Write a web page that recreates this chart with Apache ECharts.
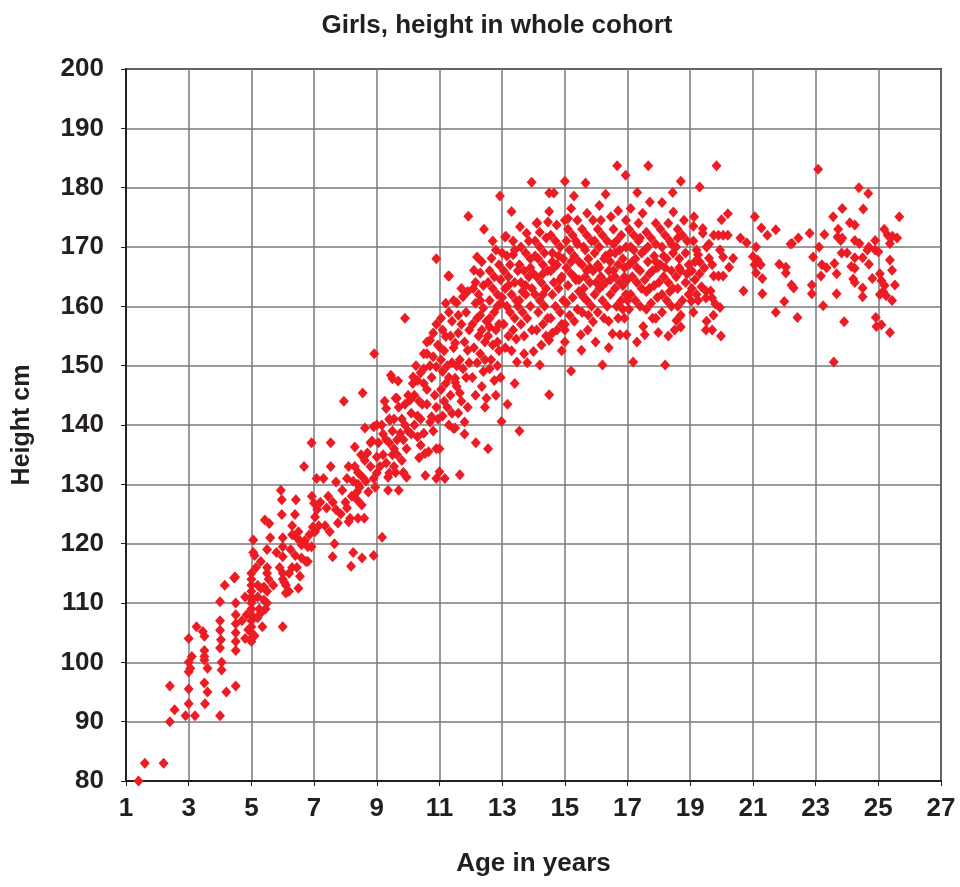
<!DOCTYPE html>
<html>
<head>
<meta charset="utf-8">
<script src="https://cdn.jsdelivr.net/npm/echarts@6/dist/echarts.min.js"></script>
<style>
  html, body { margin: 0; padding: 0; background: #fff; }
  #chart { width: 960px; height: 887px; }
</style>
</head>
<body>
<div id="chart"></div>
<script>
// [age in years, height in cm], grouped by age band
const toddlers = [
  [1.4,80],[1.6,83],[2.2,83],[2.4,90],[2.55,92],[2.4,96],[2.9,91],[3.2,91],[3.0,93],[3.0,95.5],
  [3.0,98.4],[3.0,100],[3.0,104],[3.05,99],[3.1,101],[3.25,106],[3.5,104.4],[3.45,105.2],[3.5,102],[3.5,101],
  [3.5,100.4],[3.6,99],[3.5,96.5],[3.6,95],[3.52,93],[4.0,91],[4.2,95],[4.5,96],[4.05,100],[4.05,98.7],
  [4.0,102.4],[4.03,103.8],[4.0,105.4],[4.0,107],[4.0,110.2],[4.15,113],[4.45,114.2],[4.5,110],[4.5,108],[4.5,106.5],
  [4.5,105],[4.5,103.5],[4.5,102],[4.48,114.4],[4.8,111],[4.85,108],[4.7,107],[4.9,105.5],[4.8,104]
];
const youngChildren = [
  [5.0,115],[5.0,114],[5.0,113],[5.0,112],[5.0,111],[5.02,110.5],[5.0,110],[5.0,109],[5.0,108],[5.0,107],
  [5.0,106],[5.0,105],[5.0,104],[5.0,103.5],[5.06,120.6],[5.06,118.5],
  [5.15,116],[5.2,113],[5.2,111],[5.25,109],[5.3,108.3],[5.35,106],[5.1,104.5],[5.2,107.5],[5.3,112.5],
  [5.5,116],[5.55,114],[5.5,112],[5.5,110],[5.45,109],[5.4,112.7],[5.4,110.5],[5.43,124],[5.57,123.4],[5.5,119],[5.5,115],
  [6.0,106],[6.0,114],[6.1,113],[6.2,112],[6.2,115],[6.0,121],[6.0,119.5],[6.0,117.8],[6.0,115],[6.05,113.5],
  [6.1,111.7],[5.94,129],[5.97,127.4],[5.97,124.9],
  [6.5,112.5],[6.74,117],[6.42,127.4],[6.39,124.9],[6.45,121],[6.55,120.5],[6.6,119.8],[6.7,120.5],[6.8,119.5],[6.6,117.6],
  [6.8,117],[6.5,122],[6.3,116],[6.4,118],[6.92,119.5],
  [5.1,118],[5.3,117],[5.6,121],[5.8,118.5],[5.7,113],[5.9,116],[6.3,121.5],[6.25,119],[6.45,116],[6.55,114.5],
  [6.85,121.5],[6.3,123]
];
const schoolChildren = [
  [6.92,137],[6.68,133],[6.93,128],[7.0,126.8],[7.1,125.8],[7.03,124.5],[7.03,122],[6.96,122.8],[7.08,131],[7.2,127],[7.15,123],
  [7.3,131],[7.35,123],[7.5,122],[7.53,137],[7.53,133],[7.6,127],[7.7,125.7],[7.7,130.4],[7.76,123.5],[7.59,117.8],
  [7.95,144],[8.0,127],[8.05,126],[8.05,131],[7.9,129],[7.85,125],[7.45,128],[7.4,126],[7.65,120],
  [8.3,136.3],[8.15,124.3],[8.4,124.3],[8.37,128.7],[8.37,127.4],[8.52,126.5],[8.3,133],[8.4,132],[8.55,131.2],[8.4,130],
  [8.62,134],[8.7,135.3],[8.73,128.7],[8.8,137],[8.85,137.3],[8.62,139.5],[8.9,139.7],[8.55,145.4],[8.92,152],[8.9,118],
  [8.53,117.6],[8.18,116.2],[8.25,118.5],[8.6,124.3],[8.45,129.5],[8.2,128],[8.1,123.7],[8.9,131],[8.95,129.5],
  [9.0,134.6],[9.1,133],[9.17,121.1],[9.16,140],[9.2,135],[9.3,133.6],[9.3,137.5],[9.4,137],[9.4,141],[9.5,139],
  [9.3,142.8],[9.36,131.2],[9.6,132],[9.55,133],[9.85,132],[9.95,131.2],[9.8,134],[9.75,138.6],[9.85,137.5],[9.95,136],
  [9.7,129],[9.36,129],[9.45,148.4],[9.5,147.8],[9.68,147.4],[9.7,143],[9.6,144.5],[9.8,141],[9.9,140],[9.9,158],
  [9.55,136],[9.65,135],[9.42,140.8],[9.0,140],[9.0,131.9],[9.4,131.9],[9.85,131.9],[9.64,144.5],[10.06,144.2],
  [8.1,133],[8.25,130.5],[8.5,135],[8.65,130.5],[8.8,133],[9.05,137],[9.2,138.5],[9.5,135],[9.65,137.5],[9.25,144],
  [9.55,141],[9.9,143.5]
];
const preteens = [
  [10.0,139],[10.1,138.5],[10.3,138],[10.4,136.6],[10.1,142],[10.3,141.5],[10.4,141],[10.5,138.6],[10.4,148.8],[10.5,147],
  [10.2,145],[10.3,147.5],[10.6,146],[10.7,150],[10.5,152],[10.6,154],[10.8,155.5],[10.9,157],[10.75,148],[10.85,145],
  [10.9,143],[10.95,141],[10.6,143.5],[10.7,140.5],[10.8,139],[10.9,168],[10.55,131.5],[10.9,131],[10.35,134.5],[10.0,145],
  [10.15,147],[10.65,135.5],[10.9,136],[10.16,148.1],[10.7,154.3],[11.0,153.2],[10.6,152],[10.9,149.8],[10.54,135.2],[10.75,141.4],
  [10.2,140],[10.45,143.5],[10.25,150],[10.5,149.5],[10.8,151.5],[10.95,153.5],[10.35,144],
  [11.05,158],[11.1,156],[11.2,154.9],[11.15,152.5],[11.05,151],[11.25,150],[11.1,149],[11.3,148],[11.2,147],[11.05,146],
  [11.35,145],[11.15,144],[11.25,143],[11.4,142],[11.1,141.5],[11.3,140],[11.45,139.4],[11.0,136],[11.0,132.1],[11.17,131],
  [11.31,165.1],[11.28,165.1],[11.4,157.5],[11.35,155],[11.45,153],[11.4,150.5],[11.5,147.9],[11.5,147.2],[11.3,159],[11.2,160.5],
  [11.45,161],
  [11.55,160.6],[11.6,158.5],[11.7,157],[11.6,155.5],[11.8,154],[11.5,153.8],[11.9,152.6],[11.65,151],[11.75,149.5],[11.65,145.4],
  [11.85,148],[11.55,146.5],[11.7,144],[11.9,143],[11.6,142],[11.8,140.5],[11.5,139.5],[11.65,131.6],[11.8,138.5],[11.75,161.6],
  [11.9,162.5],[11.92,175.2],[11.95,156],[11.85,159],[11.7,163],[11.95,150.5],[11.55,150]
];
const earlyTeens = [
  [12.08,163],[12.1,166.1],[12.3,165.6],[12.42,173],[12.4,159.7],[12.15,160.5],[12.2,158],[12.05,157],[12.35,156],[12.25,155],
  [12.45,154],[12.1,153],[12.3,152],[12.2,150.5],[12.4,149],[12.05,148],[12.35,146.5],[12.15,145],[12.16,137],[12.45,143],
  [12.25,162],[12.4,163.5],[12.3,161],[12.15,164],[12.45,151],[12.5,157.5],[12.2,168.3],[12.35,167.5],[12.3,158.5],
  [12.55,136],[12.5,144.5],[12.8,145],[12.66,168.1],[12.6,166],[12.75,165],[12.9,167],[12.55,164],[12.7,163],[12.85,162],
  [12.6,161],[12.95,160.5],[12.75,159],[12.6,158],[12.9,157],[12.8,156],[12.55,155],[12.7,153.5],[12.9,152.5],[12.65,151],
  [12.85,150],[12.95,148],[12.75,147.5],[12.6,149.5],[12.93,178.6],[12.98,140.6],[12.8,169.5],[12.95,164.5],[12.85,154],
  [12.6,156.5],[12.85,160],[12.7,171],
  [13.09,171.7],[13.12,171.8],[13.3,176],[13.35,168.7],[13.17,143.5],[13.05,166],[13.2,165],[13.4,164],[13.1,163],[13.3,162],
  [13.45,161],[13.15,160],[13.25,159],[13.4,158],[13.05,157],[13.35,156],[13.2,155],[13.47,150.6],[13.1,153],[13.3,152.5],
  [13.45,154.5],[13.25,167],[13.4,169.5],[13.15,168.5],[13.0,161.5],[13.5,166],[13.4,147],[13.2,163.5],[13.0,169],[13.35,171],
  [13.57,173.4],[13.78,172.3],[13.94,180.9],[13.55,139],[14.0,152.4],[13.6,170],[13.75,169],[13.9,168],[13.55,167],[13.7,166],
  [13.85,165],[13.6,164],[13.95,163],[13.75,162],[13.55,161],[13.9,160],[13.65,159],[13.8,158],[13.6,157],[13.95,156],
  [13.7,155],[13.85,171],[13.65,162.5],[13.9,166.5],[13.8,150.5],[13.5,160],[13.75,163.5],[13.7,152]
];
const midTeens = [
  [14.12,174.1],[14.1,174],[14.46,174.2],[14.2,150.1],[14.5,145.1],[14.05,171],[14.2,170],[14.35,169],[14.15,168],[14.3,167],
  [14.45,166],[14.1,165],[14.25,164],[14.4,163],[14.05,162],[14.2,161],[14.35,160],[14.15,159],[14.45,158],[14.3,157],
  [14.1,156],[14.4,155],[14.25,153.5],[14.5,154.3],[14.2,172.5],[14.4,171.5],[14.3,165.5],[14.0,165.5],[14.3,162],[14.05,168.5],
  [14.5,179.1],[14.65,179.1],[14.74,173.7],[15.0,154],[14.55,172],[14.7,171],[14.85,170],[14.6,169],[14.95,168],
  [14.75,167],[14.55,166],[14.9,165],[14.65,164],[14.8,163],[14.6,162],[14.95,161],[14.7,160],[14.85,159],[14.55,158],
  [14.9,157],[14.75,156],[14.6,155.5],[15.0,181.1],[14.8,168.5],[14.65,166.5],[14.6,167.5],[14.85,164.5],[14.5,176],[14.9,152.5],
  [15.0,174.5],[15.29,178.6],[15.1,173],[15.25,172],[15.05,171],[15.4,170.5],[15.15,169.5],[15.3,168.5],[15.45,167.5],[15.05,166.5],
  [15.2,165.5],[15.35,164.5],[15.1,163.5],[15.45,162.5],[15.25,161.5],[15.05,160.5],[15.4,159.5],[15.15,158.5],[15.3,157.5],[15.0,156],
  [15.2,149.1],[15.1,174.8],[15.35,171],[15.4,174.5],[15.0,157],[15.3,165],[15.2,167.5],[15.45,164.5],[15.2,176.5],
  [15.66,180.8],[15.71,175.7],[15.51,155.2],[15.53,152.6],[15.73,156],[15.98,154],[15.9,157.4],[15.55,173],[15.7,172],[15.85,171],
  [15.6,170],[15.95,169],[15.75,168],[15.55,167],[15.9,166],[15.65,165],[15.8,164],[15.6,163],[15.95,162],[15.7,161],
  [15.85,160],[15.55,159],[15.75,158.5],[15.9,174.5],[15.65,169.5],[15.8,166.5],[15.6,161.5],[15.7,166],[15.95,171],[15.55,162]
];
const lateTeens = [
  [16.3,178.9],[16.47,175.1],[16.2,150.1],[16.05,173],[16.2,172],[16.35,171],[16.1,170],[16.45,169],[16.25,168],[16.05,167],
  [16.4,166],[16.15,165],[16.3,164],[16.1,163],[16.45,162],[16.2,161],[16.35,160],[16.05,159],[16.25,158],[16.4,157.5],
  [16.15,174.5],[16.3,168.5],[16.45,164.5],[16.1,166.5],[16.2,163.5],[16.45,167.5],[16.0,164],[16.1,177],[16.4,153],
  [16.67,183.7],[16.94,182.1],[16.7,176.1],[16.52,155.4],[16.76,155.2],[16.97,155.2],[16.7,158],[16.9,158],[16.55,173],[16.8,172],
  [16.65,171],[16.95,170],[16.6,169],[16.85,168],[16.7,167],[16.55,166],[16.9,165],[16.75,164],[16.6,163],[16.95,162],
  [16.8,161],[16.65,160],[16.85,159.5],[16.95,174.5],[16.75,169.5],[16.6,165],[16.9,166.5],[16.55,170.5],[16.85,163.5],
  [17.31,179.2],[17.18,150.6],[17.48,175.7],[17.05,173],[17.2,172],[17.35,171],[17.1,170],[17.45,169],[17.25,168],[17.05,167],
  [17.4,166],[17.15,165],[17.3,164],[17.45,163],[17.1,162],[17.25,161],[17.4,160],[17.05,159.5],[17.5,156.6],[17.35,174],
  [17.2,169.5],[17.0,164.5],[17.3,166.5],[17.15,167.5],[17.4,171.5],[17.0,161],[17.1,176.5],[17.3,154],
  [17.66,183.7],[17.71,177.6],[17.55,155.2],[17.98,155.6],[17.8,158],[17.9,158],[17.6,172.5],[17.75,171.5],[17.9,170.5],[17.55,169.5],
  [17.85,168.5],[17.65,167.5],[17.95,166.5],[17.7,165.5],[17.55,164.5],[17.85,163.5],[17.6,162.5],[17.95,161.5],[17.75,160.5],[17.6,159.5],
  [17.9,174],[17.8,166],[17.65,170],[17.7,163],[17.9,167.5],
  [18.44,179.2],[18.46,175.9],[18.2,150.1],[18.05,173],[18.2,172],[18.35,171],[18.1,170],[18.45,169],[18.25,168],[18.05,167],
  [18.4,166],[18.15,165],[18.3,164],[18.45,163],[18.1,162],[18.25,161],[18.4,160],[18.1,159],[18.3,174],[18.2,166.5],[18.4,170.5],
  [18.15,168.5],[18.35,162.5],[18.0,164],[18.1,177.5],[18.3,155],
  [18.7,181.1],[18.7,158.5],[18.56,157.6],[18.5,156],[18.7,156.5],[18.6,173],[18.75,172],[18.9,171],[18.55,170],[18.85,169],
  [18.65,168],[18.95,167],[18.7,166],[18.55,165],[18.85,164],[18.6,163],[18.95,162],[18.75,161],[18.6,160],[19.04,160.9],
  [18.8,174.5],[18.65,166.5],[18.6,171.5],[18.9,165.5]
];
const youngAdults = [
  [19.3,180.1],[19.84,183.7],[19.12,175.1],[20.2,175.6],[20.0,174.6],[19.4,173.1],[19.4,172.3],[19.75,172],[19.9,172],[20.05,172],
  [20.2,172],[20.6,171.5],[20.8,170.7],[19.52,170],[19.95,169.5],[20.05,168.3],[20.37,168.1],[19.25,168.7],[19.3,167.5],[19.6,168.1],
  [19.7,167],[20.24,166.6],[19.75,165.1],[19.9,165.1],[20.05,165.1],[19.36,163.3],[19.5,162.6],[19.65,162.6],[19.5,161.4],[19.7,161.4],
  [20.7,162.6],[19.8,160.4],[19.95,159.8],[19.74,158.5],[19.52,157.5],[19.5,156],[19.7,156],[19.98,155],[19.1,171],[19.2,169.5],
  [19.05,166],[19.15,164.5],[19.1,173.5],[19.2,162],[19.3,165.5],[19.45,166.5],[19.6,170.5],[19.15,167.5],[19.05,163],[19.25,161],[19.1,159],
  [21.06,175.1],[21.27,173.2],[21.73,172.9],[21.46,172],[21.1,170],[22.2,170.5],[21.0,168.4],[21.15,167.8],[21.25,167],[21.05,167],
  [21.84,167.1],[22.05,166.6],[22.05,165.6],[21.1,165.6],[21.3,164.7],[21.3,162.1],[22.0,160.8],[21.73,159],[22.25,170.6],[22.45,171.5],
  [22.23,163.6],[22.3,163.1],[22.42,158.1]
];
const adults = [
  [23.08,183.1],[24.38,180],[24.68,179],[23.85,176.5],[24.52,176.4],[23.56,175.1],[25.67,175.1],[24.09,174.1],[24.25,173.7],[23.72,173],
  [25.19,173],[22.81,172.3],[23.28,172.1],[23.7,171.7],[23.85,171.5],[23.8,171.1],[24.25,171.1],[24.4,170.6],[25.3,172],[25.45,171.8],
  [25.6,171.5],[24.9,171.1],[23.11,170],[24.7,170],[24.9,169.5],[24.65,169.5],[25.37,170.6],[23.83,169],[24.0,169],[22.92,168.3],
  [24.25,168.2],[24.5,168.2],[25.0,169.2],[25.37,167.8],[23.2,167],[23.35,166.5],[23.6,167.2],[24.14,166.7],[24.25,166.4],[24.7,167.1],
  [25.44,166.1],[23.67,165.5],[23.17,165.1],[24.2,164.6],[24.25,164],[24.81,164.7],[25.05,165.5],[25.1,164.3],[25.2,163.5],[25.15,162.5],
  [25.05,162],[25.25,161.8],[25.44,161],[25.53,163.6],[22.88,163.6],[22.88,162.1],[24.5,163.1],[24.5,161.6],[23.67,162.1],[23.24,160.1],
  [23.91,157.4],[24.92,158.1],[24.94,156.6],[25.1,156.9],[25.37,155.6],[23.58,150.6]
];

const chart = echarts.init(document.getElementById('chart'));
const textColor = '#231f20';
const font = "'Liberation Sans', Arial, sans-serif";

chart.setOption({
  animation: false,
  title: {
    text: 'Girls, height in whole cohort',
    left: 492,
    top: 8,
    textAlign: 'center',
    textStyle: { fontFamily: font, fontWeight: 'bold', fontSize: 26, color: textColor }
  },
  grid: {
    left: 126, right: 19, top: 69, bottom: 106,
    show: true, borderColor: textColor, borderWidth: 2
  },
  xAxis: {
    type: 'value',
    min: 1, max: 27, interval: 2,
    name: 'Age in years',
    nameLocation: 'middle',
    nameGap: 70,
    nameTextStyle: { fontFamily: font, fontWeight: 'bold', fontSize: 26, color: textColor },
    axisLine: { show: true, lineStyle: { color: textColor, width: 2 } },
    axisTick: { show: true, length: 5, lineStyle: { color: textColor } },
    axisLabel: { margin: 15, fontFamily: font, fontWeight: 'bold', fontSize: 26, color: textColor },
    splitLine: { show: true, lineStyle: { color: '#7a7a7a', width: 1.5 } }
  },
  yAxis: {
    type: 'value',
    min: 80, max: 200, interval: 10,
    name: 'Height cm',
    nameLocation: 'middle',
    nameRotate: 90,
    nameGap: 91,
    nameTextStyle: { fontFamily: font, fontWeight: 'bold', fontSize: 25, color: textColor },
    axisLine: { show: true, lineStyle: { color: textColor, width: 2 } },
    axisTick: { show: true, length: 5, lineStyle: { color: textColor } },
    axisLabel: { margin: 22, fontFamily: font, fontWeight: 'bold', fontSize: 26, color: textColor },
    splitLine: { show: true, lineStyle: { color: '#7a7a7a', width: 1.5 } }
  },
  series: [{
    type: 'scatter',
    symbol: 'diamond',
    symbolSize: [10, 11],
    itemStyle: { color: '#ed1c24', opacity: 1 },
    data: [].concat(toddlers, youngChildren, schoolChildren, preteens, earlyTeens, midTeens, lateTeens, youngAdults, adults)
  }]
});
</script>
</body>
</html>
